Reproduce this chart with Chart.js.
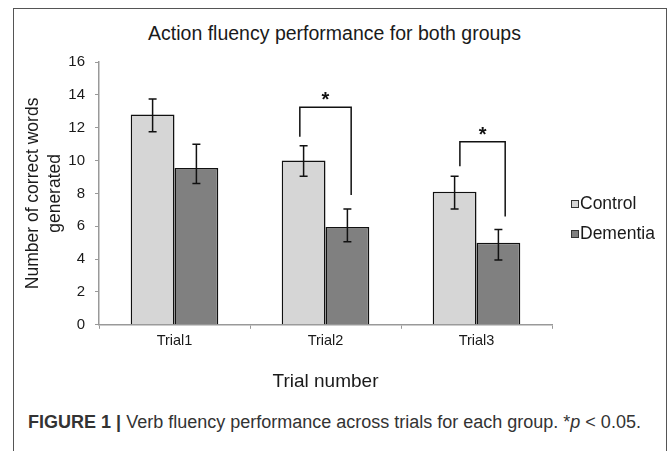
<!DOCTYPE html>
<html>
<head>
<meta charset="utf-8">
<script src="https://cdn.jsdelivr.net/npm/chart.js@4.4.0/dist/chart.umd.min.js"></script>
<style>
body{margin:0;background:#fff;font-family:"Liberation Sans",Arial,sans-serif}
#wrap{position:relative;width:669px;height:451px;overflow:hidden;background:#fff}
#frame{position:absolute;left:13px;top:8px;width:654px;height:470px;border:1.5px solid #555;box-sizing:border-box}
#box{position:absolute;left:0;top:0;width:669px;height:400px}
#title{position:absolute;left:0;width:669px;top:21px;text-align:center;font-size:19.5px;line-height:24px;color:#1a1a1a;white-space:nowrap}
#legend{position:absolute;left:571px;top:191px;font-size:17.5px;color:#1a1a1a}
#legend div{height:30px;line-height:24px;white-space:nowrap}
#legend span{display:inline-block;width:8px;height:8px;border:1px solid #333;box-sizing:border-box;margin-right:1px;vertical-align:1px}
#caption{position:absolute;left:0;width:669px;top:412px;text-align:center;font-size:18px;color:#333;white-space:nowrap}
</style>
</head>
<body>
<div id="wrap">
  <div id="frame"></div>
  <div id="title">Action fluency performance for both groups</div>
  <div id="box"><canvas id="myChart" width="669" height="400"></canvas></div>
  <div id="legend">
    <div><span style="background:#d6d6d6"></span>Control</div>
    <div><span style="background:#808080"></span>Dementia</div>
  </div>
  <div id="caption"><b>FIGURE 1 |</b> Verb fluency performance across trials for each group. *<i>p</i> &lt; 0.05.</div>
</div>
<script>
var trials = ['Trial1', 'Trial2', 'Trial3'];
var control = [12.8, 10.0, 8.1];
var dementia = [9.55, 5.95, 5.0];
// error bar ends (upper / lower)
var controlHi = [13.75, 10.9, 9.05];
var controlLo = [11.75, 9.05, 7.05];
var dementiaHi = [11.0, 7.05, 5.8];
var dementiaLo = [8.6, 5.05, 3.95];
// significance brackets (x in category index units, y in data units)
var sigLeftX = [0.83, 1.89];
var sigRightX = [1.17, 2.19];
var sigTop = [13.25, 11.15];
var sigLeftEnd = [11.45, 9.65];
var sigRightEnd = [7.9, 6.6];

var errHi = [controlHi, dementiaHi];
var errLo = [controlLo, dementiaLo];

var errorBars = {
    id: 'errorBars',
    afterDatasetsDraw: function(chart) {
        var ctx = chart.ctx;
        var y = chart.scales.y;
        ctx.save();
        ctx.strokeStyle = '#111';
        ctx.lineWidth = 1.5;
        for (var d = 0; d < chart.data.datasets.length; d++) {
            var meta = chart.getDatasetMeta(d);
            for (var i = 0; i < meta.data.length; i++) {
                var x = meta.data[i].x;
                var yh = y.getPixelForValue(errHi[d][i]);
                var yl = y.getPixelForValue(errLo[d][i]);
                ctx.beginPath();
                ctx.moveTo(x, yh); ctx.lineTo(x, yl);
                ctx.moveTo(x - 4, yh); ctx.lineTo(x + 4, yh);
                ctx.moveTo(x - 4, yl); ctx.lineTo(x + 4, yl);
                ctx.stroke();
            }
        }
        ctx.restore();
    }
};

var brackets = {
    id: 'brackets',
    afterDatasetsDraw: function(chart) {
        var ctx = chart.ctx;
        var xs = chart.scales.x, y = chart.scales.y;
        ctx.save();
        ctx.strokeStyle = '#111';
        ctx.lineWidth = 1.5;
        ctx.fillStyle = '#111';
        ctx.font = 'bold 20px "Liberation Sans", Arial, sans-serif';
        ctx.textAlign = 'center';
        ctx.textBaseline = 'alphabetic';
        for (var i = 0; i < sigTop.length; i++) {
            var x1 = xs.getPixelForValue(sigLeftX[i]);
            var x2 = xs.getPixelForValue(sigRightX[i]);
            var yt = y.getPixelForValue(sigTop[i]);
            ctx.beginPath();
            ctx.moveTo(x1, y.getPixelForValue(sigLeftEnd[i]));
            ctx.lineTo(x1, yt);
            ctx.lineTo(x2, yt);
            ctx.lineTo(x2, y.getPixelForValue(sigRightEnd[i]));
            ctx.stroke();
            ctx.fillText('*', (x1 + x2) / 2, yt - 1);
        }
        ctx.restore();
    }
};

var fam = '"Liberation Sans", Arial, sans-serif';
var ctx = document.getElementById('myChart');
var barGraph = new Chart(ctx, {
    type: 'bar',
    data: {
        labels: trials,
        datasets: [
            {
                label: 'Control',
                data: control,
                backgroundColor: '#d6d6d6',
                borderColor: '#111',
                borderWidth: 1.5
            },
            {
                label: 'Dementia',
                data: dementia,
                backgroundColor: '#808080',
                borderColor: '#111',
                borderWidth: 1.5
            }
        ]
    },
    options: {
        responsive: false,
        animation: false,
        layout: { padding: { left: 0, right: 117, top: 62, bottom: 3 } },
        datasets: { bar: { categoryPercentage: 0.58, barPercentage: 1.0 } },
        plugins: {
            legend: { display: false },
            tooltip: { enabled: false },
            title: { display: false }
        },
        scales: {
            x: {
                grid: { offset: true, drawOnChartArea: false, tickLength: 4, color: '#999' },
                border: { color: '#999', width: 1.5 },
                ticks: { color: '#1a1a1a', padding: 3, font: { family: fam, size: 14.5 } },
                title: {
                    display: true,
                    text: 'Trial number',
                    color: '#1a1a1a',
                    font: { family: fam, size: 19 },
                    padding: { top: 18, bottom: 4 }
                }
            },
            y: {
                min: 0,
                max: 16,
                afterFit: function(s) { s.width = 99; },
                grid: { drawOnChartArea: false, tickLength: 4, color: '#999' },
                border: { color: '#999', width: 1.5 },
                ticks: { stepSize: 2, color: '#1a1a1a', padding: 10, font: { family: fam, size: 15 } },
                title: {
                    display: true,
                    text: ['Number of correct words', 'generated'],
                    color: '#1a1a1a',
                    font: { family: fam, size: 17.5, lineHeight: 1.27 },
                    padding: { top: 22, bottom: 0 }
                }
            }
        }
    },
    plugins: [errorBars, brackets]
});
</script>
</body>
</html>
